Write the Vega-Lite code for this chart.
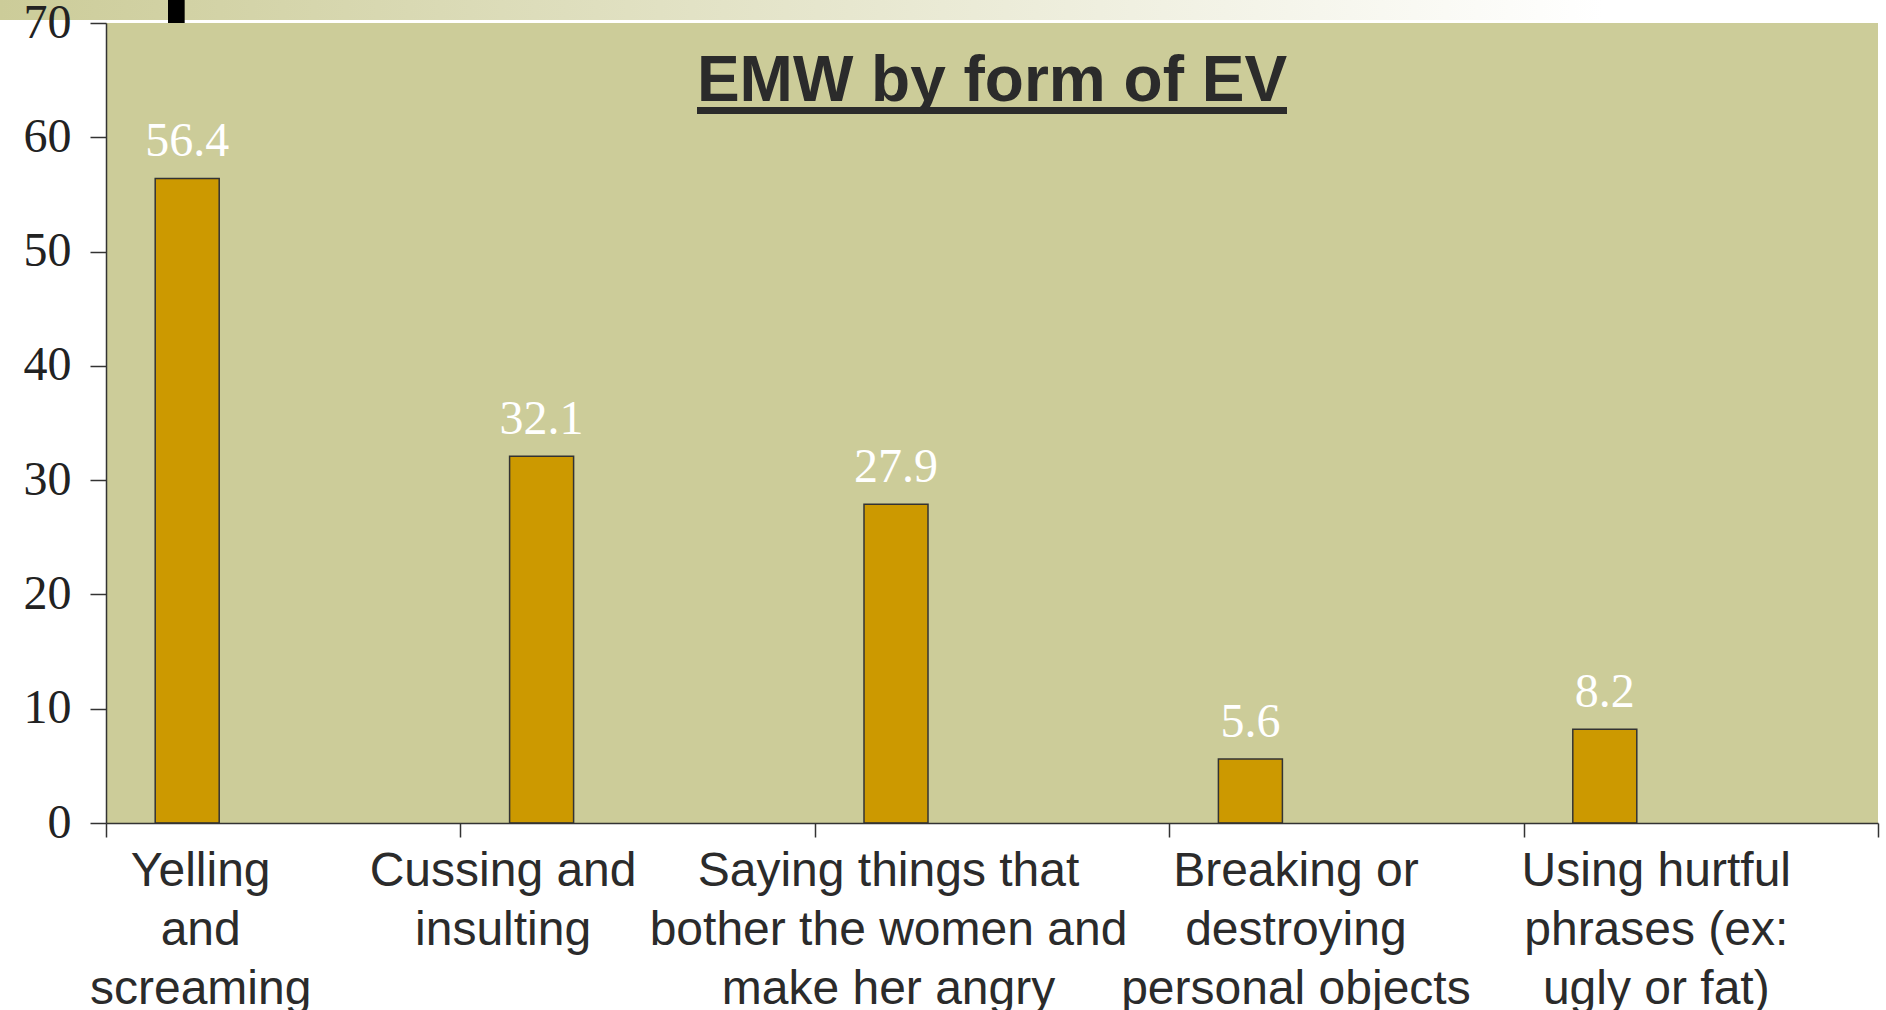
{
  "$schema": "https://vega.github.io/schema/vega-lite/v6.json",
  "width": 1772,
  "height": 800,
  "autosize": {"type": "none"},
  "padding": {"left": 106, "top": 23, "right": 8, "bottom": 187},
  "background": "#ffffff",
  "config": {"view": {"fill": "#CCCC99", "stroke": null}},
  "title": {
    "text": "EMW by form of EV",
    "font": "Liberation Sans",
    "fontWeight": "bold",
    "fontSize": 64,
    "color": "#2b2b2b",
    "anchor": "middle",
    "frame": "group",
    "baseline": "alphabetic",
    "offset": -166
  },
  "data": {
    "values": [
      {"form": "Yelling\nand\nscreaming", "pct": 56.4},
      {"form": "Cussing and\ninsulting", "pct": 32.1},
      {"form": "Saying things that\nbother the women and\nmake her angry", "pct": 27.9},
      {"form": "Breaking or\ndestroying\npersonal objects", "pct": 5.6},
      {"form": "Using hurtful\nphrases (ex:\nugly or fat)", "pct": 8.2}
    ]
  },
  "encoding": {
    "x": {
      "field": "form",
      "type": "nominal",
      "sort": null,
      "scale": {
        "domain": [
          "Yelling\nand\nscreaming",
          "Cussing and\ninsulting",
          "Saying things that\nbother the women and\nmake her angry",
          "Breaking or\ndestroying\npersonal objects",
          "Using hurtful\nphrases (ex:\nugly or fat)"
        ],
        "paddingInner": 0,
        "paddingOuter": 0
      },
      "axis": {
        "title": null,
        "labelAngle": 0,
        "labelFont": "Liberation Sans",
        "labelFontSize": 48,
        "labelColor": "#2b2b2b",
        "labelLineHeight": 59,
        "labelBaseline": "top",
        "labelPadding": 10,
        "labelLimit": 2000,
        "labelOverlap": false,
        "labelExpr": "split(datum.label, '\\n')",
        "labelOffset": {"expr": "datum.index < 0.1 ? -83 : datum.index < 0.4 ? -135 : datum.index < 0.6 ? -104 : datum.index < 0.9 ? -51 : -45"},
        "tickBand": "extent",
        "tickSize": 14,
        "tickColor": "#333333",
        "tickWidth": 1.5,
        "domainColor": "#333333",
        "domainWidth": 1.5
      }
    },
    "y": {
      "field": "pct",
      "type": "quantitative",
      "scale": {"domain": [0, 70], "nice": false},
      "axis": {
        "title": null,
        "zindex": 1,
        "values": [0, 10, 20, 30, 40, 50, 60, 70],
        "grid": false,
        "labelFont": "Liberation Serif",
        "labelFontSize": 48,
        "labelColor": "#222222",
        "labelPadding": 19,
        "tickSize": 16,
        "tickColor": "#333333",
        "tickWidth": 1.5,
        "domainColor": "#333333",
        "domainWidth": 1.5
      }
    }
  },
  "layer": [
    {
      "mark": {
        "type": "rect",
        "xOffset": -283,
        "x2Offset": 185,
        "fill": {
          "gradient": "linear",
          "x1": 0, "x2": 1, "y1": 0, "y2": 0,
          "stops": [
            {"offset": 0, "color": "#CCCC99"},
            {"offset": 0.85, "color": "#ffffff"}
          ]
        }
      },
      "encoding": {
        "x": {"datum": "Yelling\nand\nscreaming", "type": "nominal"},
        "x2": {"datum": "Using hurtful\nphrases (ex:\nugly or fat)"},
        "y": {"datum": 72.01, "type": "quantitative"},
        "y2": {"datum": 70.26}
      }
    },
    {
      "mark": {"type": "rect", "fill": "#000000", "xOffset": -115, "x2Offset": -99},
      "encoding": {
        "x": {"datum": "Yelling\nand\nscreaming", "type": "nominal"},
        "x2": {"datum": "Yelling\nand\nscreaming"},
        "y": {"datum": 72.01, "type": "quantitative"},
        "y2": {"datum": 70.0}
      }
    },
    {
      "mark": {"type": "bar", "width": 64, "xOffset": -96, "fill": "#CC9900", "stroke": "#333333", "strokeWidth": 1.5}
    },
    {
      "mark": {"type": "text", "font": "Liberation Serif", "fontSize": 48, "color": "#ffffff", "baseline": "alphabetic", "dy": -22, "xOffset": -96},
      "encoding": {
        "text": {"field": "pct", "type": "quantitative", "format": ".1f"}
      }
    },
    {
      "mark": {"type": "rule", "strokeWidth": 6.5, "color": "#2b2b2b", "xOffset": -295, "x2Offset": 295},
      "encoding": {
        "x": {"datum": "Saying things that\nbother the women and\nmake her angry", "type": "nominal"},
        "x2": {"datum": "Saying things that\nbother the women and\nmake her angry"},
        "y": {"datum": 62.34, "type": "quantitative"}
      }
    }
  ]
}
